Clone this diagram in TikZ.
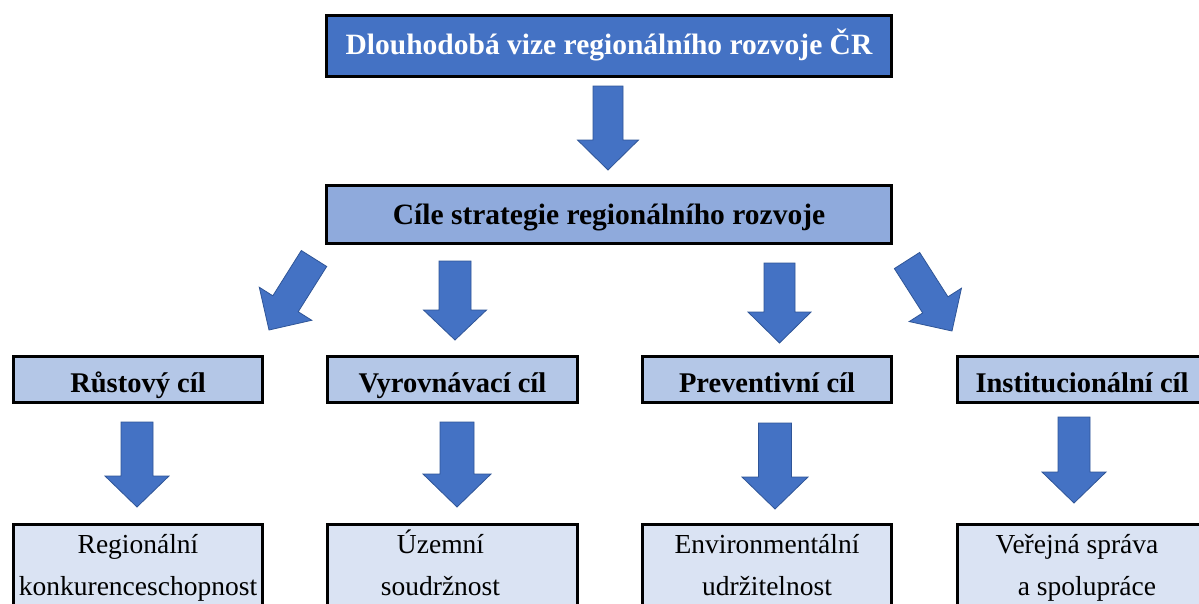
\documentclass[tikz,border=0pt]{standalone}
\usepackage{fontspec}
\setmainfont{Liberation Serif}
\usetikzlibrary{calc}
\definecolor{darkbox}{HTML}{4472C4}
\definecolor{arrowline}{HTML}{2F5597}
\definecolor{midbox}{HTML}{8FAADC}
\definecolor{lightbox}{HTML}{B4C7E7}
\definecolor{paleblue}{HTML}{DAE3F3}
\tikzset{
  box/.style={draw=black, line width=2.8pt, inner sep=0pt, text depth=0pt},
  titlebox/.style={box, fill=darkbox, text=white,
    font=\bfseries\fontsize{29.5pt}{32pt}\selectfont,
    minimum width=565.5pt, minimum height=61.2pt, text height=16pt},
  goalbox/.style={box, fill=midbox,
    font=\bfseries\fontsize{29.5pt}{32pt}\selectfont,
    minimum width=565.5pt, minimum height=58.2pt, text height=19pt},
  aimbox/.style={box, fill=lightbox,
    font=\bfseries\fontsize{28.5pt}{32pt}\selectfont,
    minimum width=249.5pt, minimum height=46.5pt, text height=25pt},
  areabox/.style={draw=black, line width=2.8pt, fill=paleblue, anchor=north,
    inner xsep=0pt, inner ysep=3pt, minimum width=249.5pt, align=center,
    font=\fontsize{27.5pt}{42pt}\selectfont},
  barrow/.style={fill=darkbox, draw=arrowline, line width=0.8pt, line join=miter}
}
% block arrow: start, tip, half shaft width, half head width, head length
\newcommand{\blockarrow}[5]{%
  \draw[barrow] ($(#1)!#3!90:(#2)$)
    -- ($($(#2)!#5!(#1)$)!#3!90:(#2)$)
    -- ($($(#2)!#5!(#1)$)!#4!90:(#2)$)
    -- (#2)
    -- ($($(#2)!#5!(#1)$)!#4!-90:(#2)$)
    -- ($($(#2)!#5!(#1)$)!#3!-90:(#2)$)
    -- ($(#1)!#3!-90:(#2)$) -- cycle;}
\begin{document}
\begin{tikzpicture}[x=1pt,y=-1pt]
  \path[use as bounding box] (0,0) rectangle (1199,603);
  \clip (0,0) rectangle (1199,603);
  \fill[white] (0,0) rectangle (1199,603);

  % boxes
  \node[titlebox] (vize) at (609,46) {Dlouhodobá vize regionálního rozvoje ČR};
  \node[goalbox] (cile) at (609,214.5) {Cíle strategie regionálního rozvoje};

  \node[aimbox] (rust) at (138,379.5) {Růstový cíl};
  \node[aimbox] (vyr) at (452.5,379.5) {Vyrovnávací cíl};
  \node[aimbox] (prev) at (767,379.5) {Preventivní cíl};
  \node[aimbox] (inst) at (1082,379.5) {Institucionální cíl};

  \node[areabox] (konk) at (138,523) {\rule{0pt}{26pt}Regionální\\konkurenceschopnost\rule[-20pt]{0pt}{20pt}};
  \node[areabox] (souh) at (452.5,523) {\rule{0pt}{26pt}Územní\hspace*{24pt}\\soudržnost\hspace*{24pt}\rule[-20pt]{0pt}{20pt}};
  \node[areabox] (env) at (767,523) {\rule{0pt}{26pt}Environmentální\\udržitelnost\rule[-20pt]{0pt}{20pt}};
  \node[areabox] (sprava) at (1082,523) {\rule{0pt}{26pt}Veřejná správa\hspace*{10pt}\\\hspace*{10pt}a spolupráce\rule[-20pt]{0pt}{20pt}};

  % arrow end points
  \coordinate (a0s) at (608,86);    \coordinate (a0e) at (608,170);
  \coordinate (a1s) at (314,258.5); \coordinate (a1e) at (269,330);
  \coordinate (a2s) at (455,261);   \coordinate (a2e) at (455,340);
  \coordinate (a3s) at (779.5,263); \coordinate (a3e) at (779.5,343);
  \coordinate (a4s) at (907,260.5); \coordinate (a4e) at (952,331);
  \coordinate (b1s) at (137,422);   \coordinate (b1e) at (137,507);
  \coordinate (b2s) at (457,422);   \coordinate (b2e) at (457,507);
  \coordinate (b3s) at (775,423);   \coordinate (b3e) at (775,509);
  \coordinate (b4s) at (1074,417);  \coordinate (b4e) at (1074,503);

  % arrows
  \blockarrow{a0s}{a0e}{15pt}{30.5pt}{30pt}
  \blockarrow{a1s}{a1e}{15pt}{31pt}{31pt}
  \blockarrow{a2s}{a2e}{16pt}{31.5pt}{30pt}
  \blockarrow{a3s}{a3e}{15.5pt}{31.5pt}{31pt}
  \blockarrow{a4s}{a4e}{15pt}{31pt}{31pt}
  \blockarrow{b1s}{b1e}{16pt}{32pt}{31pt}
  \blockarrow{b2s}{b2e}{17pt}{34pt}{33pt}
  \blockarrow{b3s}{b3e}{16.5pt}{33pt}{32pt}
  \blockarrow{b4s}{b4e}{16pt}{32pt}{31pt}
\end{tikzpicture}
\end{document}
